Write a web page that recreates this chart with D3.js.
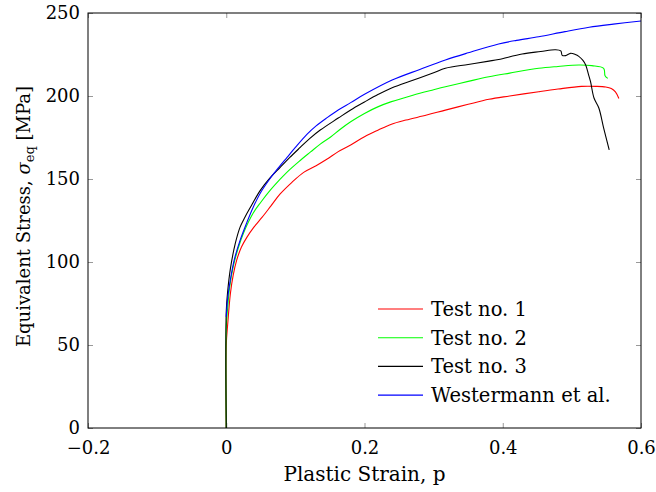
<!DOCTYPE html>
<html>
<head>
<meta charset="utf-8">
<script src="https://cdn.jsdelivr.net/npm/d3@7"></script>
<style>
  body { margin: 0; background: #fff; }
  text { font-family: "DejaVu Serif", serif; fill: #000; }
</style>
</head>
<body>
<div id="chart"></div>
<script>
// Data: [plastic strain, stress in MPa]
var test1 = [[0,0],[0,50],[0.002,62],[0.006,81],[0.01,92],[0.015,101],[0.022,109],[0.03,115],[0.04,121],[0.052,127],[0.065,134],[0.078,141],[0.095,148],[0.112,154],[0.13,158],[0.146,162],[0.162,166.5],[0.18,170.5],[0.2,175.5],[0.22,179.5],[0.239,183],[0.26,185.5],[0.29,188.5],[0.317,191.5],[0.35,195],[0.38,198],[0.41,200],[0.452,202.6],[0.48,204.2],[0.514,205.8],[0.535,205.8],[0.549,205.4],[0.557,204.5],[0.563,202.5],[0.568,198.5]];
var test2 = [[0,0],[0,60],[0.002,72],[0.005,85],[0.01,97],[0.017,108],[0.025,117.5],[0.039,129.5],[0.05,136],[0.064,143.4],[0.076,149],[0.088,154.2],[0.105,160.5],[0.122,166.3],[0.136,171],[0.151,175.3],[0.165,180],[0.18,184.5],[0.2,189.5],[0.22,193.6],[0.239,196.6],[0.27,200.5],[0.3,203.8],[0.317,205.6],[0.35,208.8],[0.38,211.6],[0.41,213.8],[0.452,216.7],[0.48,217.8],[0.51,218.7],[0.529,218.3],[0.546,216.7],[0.548,212.2],[0.552,210.6]];
var test3 = [[0,0],[0,70],[0.002,82],[0.006,96],[0.013,111],[0.02,121],[0.027,127],[0.035,133],[0.049,143],[0.063,150.5],[0.078,157],[0.092,163],[0.107,169],[0.121,174.5],[0.136,179.5],[0.162,186.7],[0.18,191.6],[0.2,196.4],[0.22,201],[0.24,205],[0.27,209.5],[0.3,214],[0.317,216.7],[0.35,219],[0.38,221],[0.394,222],[0.428,225.3],[0.455,226.8],[0.476,227.9],[0.484,227.2],[0.486,224.5],[0.491,224.3],[0.498,225.7],[0.505,225],[0.51,223.9],[0.516,221.5],[0.52,218.7],[0.524,213],[0.527,208.6],[0.532,198.8],[0.539,192.8],[0.546,180.7],[0.554,167.5]];
var westermann = [[0,67],[0.002,78],[0.0058,89],[0.012,102],[0.02,113],[0.03,124],[0.039,133],[0.05,142],[0.064,150.6],[0.076,157],[0.088,163],[0.1,169],[0.117,177],[0.13,182],[0.146,187],[0.162,191.6],[0.18,196],[0.2,201],[0.24,209.6],[0.28,216],[0.317,221.7],[0.35,226],[0.394,231.3],[0.42,233.5],[0.452,235.7],[0.49,238.8],[0.525,241.4],[0.56,243.3],[0.6,245.2]];

var seriesNames = ["Test no. 1", "Test no. 2", "Test no. 3", "Westermann et al."];
var seriesColors = ["#ff0000", "#00ff00", "#000000", "#0000ff"];
var xTicks = [-0.2, 0, 0.2, 0.4, 0.6];
var yTicks = [0, 50, 100, 150, 200, 250];

var width = 656, height = 492;
var margin = {left: 88, right: 15, top: 13, bottom: 64};
var plotW = width - margin.left - margin.right;
var plotH = height - margin.top - margin.bottom;

var x = d3.scaleLinear().domain([-0.2, 0.6]).range([0, plotW]);
var y = d3.scaleLinear().domain([0, 250]).range([plotH, 0]);

var svg = d3.select("#chart").append("svg")
    .attr("width", width)
    .attr("height", height);

var g = svg.append("g")
    .attr("transform", "translate(" + margin.left + "," + margin.top + ")");

svg.append("defs").append("clipPath").attr("id", "clip")
  .append("rect").attr("width", plotW).attr("height", plotH);

// pgfplots style: ticks point inwards on all four sides, labels only bottom/left
var tickLen = 5;
function tickAxis(axis) {
    return axis.tickSizeInner(-tickLen).tickSizeOuter(0).tickPadding(8);
}
var minus = function(d){ return d3.format("")(d).replace("-", "\u2212"); };

var xAx = g.append("g").attr("transform", "translate(0," + plotH + ")")
    .call(tickAxis(d3.axisBottom(x)).tickValues(xTicks).tickFormat(minus));
var xTop = g.append("g")
    .call(tickAxis(d3.axisTop(x)).tickValues(xTicks).tickFormat(""));
var yAx = g.append("g")
    .call(tickAxis(d3.axisLeft(y)).tickValues(yTicks));
var yRight = g.append("g").attr("transform", "translate(" + plotW + ",0)")
    .call(tickAxis(d3.axisRight(y)).tickValues(yTicks).tickFormat(""));

[xAx, xTop, yAx, yRight].forEach(function(a){
    a.select(".domain").remove();
    a.selectAll(".tick line").attr("stroke", "#999");
    a.selectAll("text").style("font-family", "DejaVu Serif, serif").style("font-size", "18px").attr("fill", "#000");
});
xAx.selectAll("text").attr("dy", "1em");

// lines, smoothed a little like the original plot
var line = d3.line()
    .curve(d3.curveCatmullRom.alpha(0.5))
    .x(function(d){ return x(d[0]); })
    .y(function(d){ return y(d[1]); });

var allSeries = [test1, test2, test3, westermann];
g.append("g").attr("clip-path", "url(#clip)")
  .selectAll("path")
  .data(allSeries)
  .enter()
  .append("path")
  .attr("d", line)
  .attr("fill", "none")
  .attr("stroke", function(d, i){ return seriesColors[i]; })
  .attr("stroke-width", 1.1)
  .attr("stroke-linejoin", "round");

// frame
g.append("rect")
  .attr("width", plotW).attr("height", plotH)
  .attr("fill", "none").attr("stroke", "#000").attr("stroke-width", 1);

// legend (no border)
var legend = g.append("g").attr("transform", "translate(" + (378 - margin.left) + "," + (309 - margin.top) + ")");
var rows = legend.selectAll("g").data(seriesNames).enter().append("g")
  .attr("transform", function(d, i){ return "translate(0," + (i * 28.7) + ")"; });
rows.append("line")
  .attr("x1", 0).attr("x2", 45)
  .attr("stroke", function(d, i){ return seriesColors[i]; })
  .attr("stroke-width", 1.1);
rows.append("text")
  .attr("x", 53).attr("y", 7)
  .style("font-size", "19.5px")
  .text(function(d){ return d; });

// axis labels
svg.append("text")
  .attr("x", margin.left + plotW / 2).attr("y", 481)
  .attr("text-anchor", "middle")
  .style("font-size", "20px")
  .text("Plastic Strain, p");

var yl = svg.append("text")
  .attr("transform", "translate(30," + (margin.top + plotH / 2 - 4) + ") rotate(-90)")
  .style("font-size", "18px");
yl.append("tspan").text("Equivalent Stress, ");
yl.append("tspan").style("font-style", "italic").text("\u03c3");
yl.append("tspan").attr("dy", 4).style("font-size", "13px").text("eq");
yl.append("tspan").attr("dy", -4).text(" [MPa]");
// centre the rotated label on the plot by measuring it
var bb = yl.node().getBBox();
yl.attr("x", -(bb.x + bb.width / 2));
</script>
</body>
</html>
